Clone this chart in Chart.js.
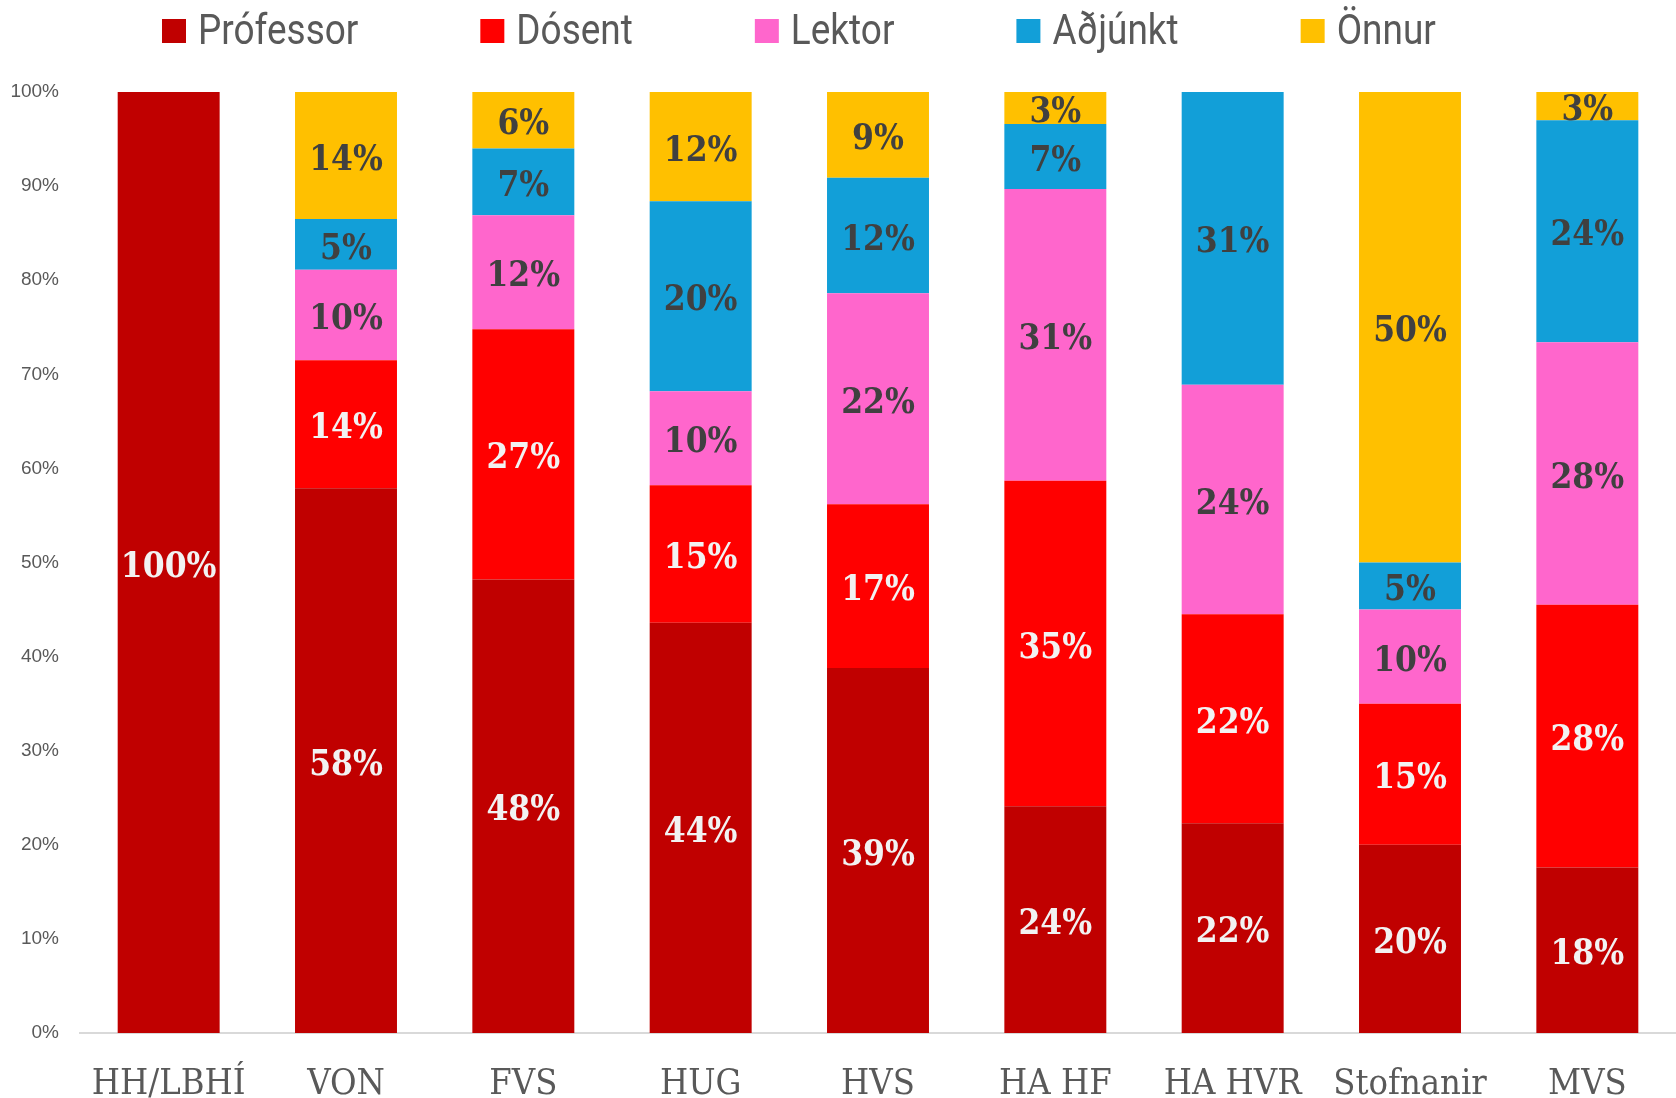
<!DOCTYPE html>
<html>
<head>
<meta charset="utf-8">
<script src="https://cdn.jsdelivr.net/npm/chart.js@4.4.1/dist/chart.umd.min.js"></script>
<style>
  html, body { margin: 0; padding: 0; background: #fff; }
  #wrap { width: 1676px; height: 1098px; }
</style>
</head>
<body>
<div id="wrap"><canvas id="staffChart" width="1676" height="1098"></canvas></div>
<script>
const categories = ["HH/LBHÍ", "VON", "FVS", "HUG", "HVS", "HA HF", "HA HVR", "Stofnanir", "MVS"];

// percent of staff in each unit
const professor = [100, 57.9, 48.2, 43.6, 38.8, 24.1, 22.3, 20, 17.6];
const dosent    = [0,   13.6, 26.6, 14.6, 17.4, 34.6, 22.2, 15, 27.9];
const lektor    = [0,    9.6, 12.1, 10.0, 22.4, 31.0, 24.4, 10, 27.9];
const adjunkt   = [0,    5.4,  7.1, 20.2, 12.3,  6.9, 31.1,  5, 23.6];
const onnur     = [0,   13.5,  6.0, 11.6,  9.1,  3.4,  0,   50,  3.0];

const seriesNames = ["Prófessor", "Dósent", "Lektor", "Aðjúnkt", "Önnur"];
const seriesColors = ["#C00000", "#FF0000", "#FF66CC", "#129FD8", "#FFC000"];
const labelColors = ["#F2F2F2", "#F2F2F2", "#404040", "#404040", "#404040"];
const yTicks = [0, 10, 20, 30, 40, 50, 60, 70, 80, 90, 100];

const allSeries = [professor, dosent, lektor, adjunkt, onnur];

// labels in the middle of each segment
const segmentLabels = {
  id: "segmentLabels",
  afterDatasetsDraw(chart) {
    const ctx = chart.ctx;
    ctx.save();
    ctx.font = "bold 35px 'DejaVu Serif Condensed', 'DejaVu Serif', serif";
    ctx.textAlign = "center";
    ctx.textBaseline = "middle";
    chart.data.datasets.forEach((ds, i) => {
      const meta = chart.getDatasetMeta(i);
      meta.data.forEach((bar, j) => {
        const v = ds.data[j];
        if (!v) return;
        ctx.fillStyle = labelColors[i];
        ctx.fillText(Math.round(v) + "%", bar.x, (bar.y + bar.base) / 2 + 5);
      });
    });
    ctx.restore();
  }
};

// legend drawn across the top like the original (narrow text)
const topLegend = {
  id: "topLegend",
  afterDraw(chart) {
    const ctx = chart.ctx;
    const squeeze = 0.88;
    ctx.save();
    ctx.font = "42px Roboto, 'Liberation Sans', sans-serif";
    ctx.textBaseline = "middle";
    let x = 162;
    const y = 31;
    seriesNames.forEach((name, i) => {
      ctx.fillStyle = seriesColors[i];
      ctx.fillRect(x, y - 12, 24, 24);
      x += 24 + 12;
      ctx.save();
      ctx.translate(x, y + 2);
      ctx.scale(squeeze, 1);
      ctx.fillStyle = "#595959";
      ctx.fillText(name, 0, 0);
      ctx.restore();
      x += ctx.measureText(name).width * squeeze + 122;
    });
    ctx.restore();
  }
};

new Chart(document.getElementById("staffChart").getContext("2d"), {
  type: "bar",
  data: {
    labels: categories,
    datasets: allSeries.map((d, i) => ({
      label: seriesNames[i],
      data: d,
      backgroundColor: seriesColors[i],
      borderWidth: 0,
      barPercentage: 0.575,
      categoryPercentage: 1
    }))
  },
  options: {
    responsive: false,
    animation: false,
    layout: { padding: { top: 92, right: 0, bottom: 0, left: 0 } },
    plugins: {
      legend: { display: false },
      tooltip: { enabled: false }
    },
    scales: {
      x: {
        stacked: true,
        afterFit(scale) { scale.height = 65; },
        grid: { display: false, drawTicks: false },
        border: { color: "#D9D9D9", width: 2 },
        ticks: {
          color: "#595959",
          padding: 30,
          maxRotation: 0,
          font: { family: "'DejaVu Serif Condensed', 'DejaVu Serif', serif", size: 36 }
        }
      },
      y: {
        stacked: true,
        min: 0,
        max: 100,
        afterBuildTicks(scale) {
          scale.ticks = yTicks.map(v => ({ value: v }));
        },
        afterFit(scale) { scale.width = 80; },
        grid: { display: false, drawTicks: false },
        border: { display: false },
        ticks: {
          color: "#595959",
          padding: 21,
          font: { family: "'Liberation Sans', sans-serif", size: 19 },
          callback: v => v + "%"
        }
      }
    }
  },
  plugins: [segmentLabels, topLegend]
});
</script>
</body>
</html>
